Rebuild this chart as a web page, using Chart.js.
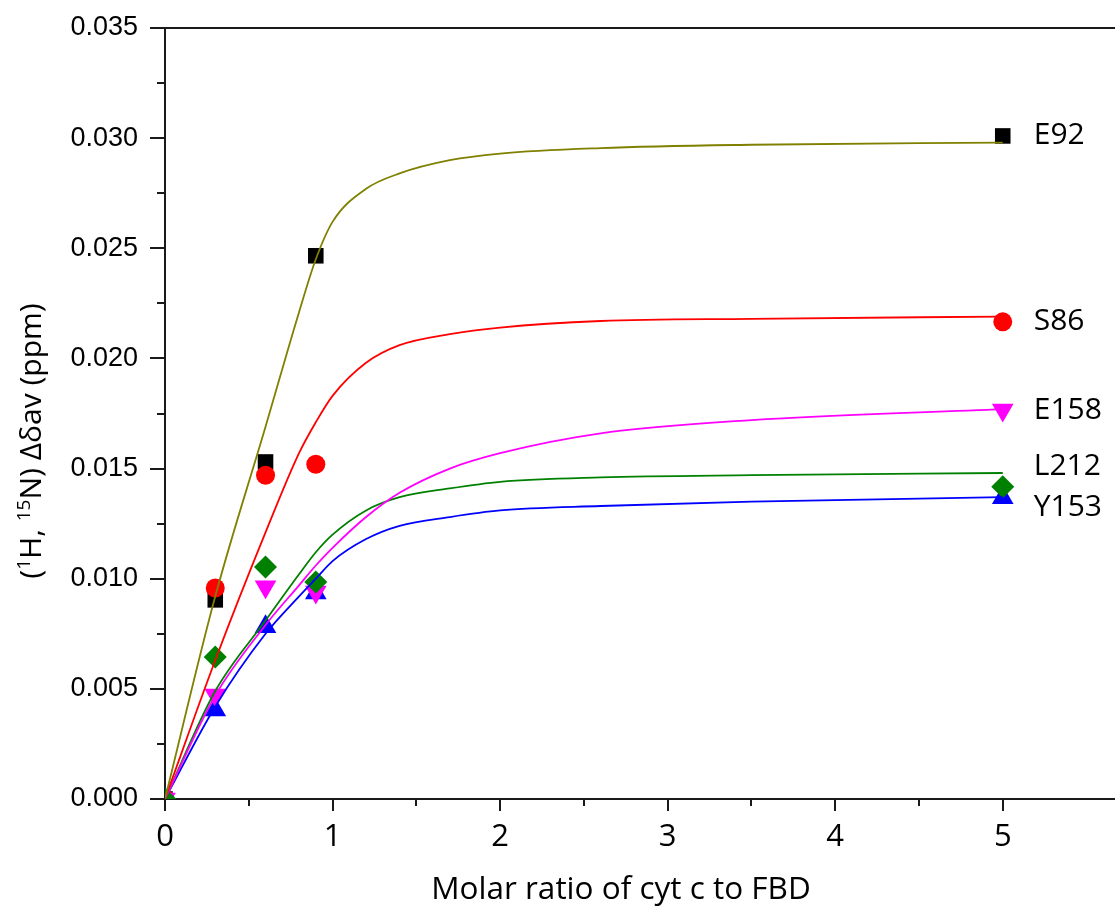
<!DOCTYPE html>
<html>
<head>
<meta charset="utf-8">
<script src="https://cdn.jsdelivr.net/npm/chart.js@4.4.1/dist/chart.umd.min.js"></script>
<style>
  html, body { margin: 0; padding: 0; background: #fff; }
</style>
</head>
<body>
<canvas id="chart" width="1115" height="913"></canvas>
<script>
// measured points (molar ratio vs shift)
const ratioX = [0, 0.3, 0.6, 0.9, 5];
const e92 = [0, 0.00904, 0.0153, 0.02466, 0.0301];
const s86 = [0, 0.00958, 0.0147, 0.0152, 0.02166];
const e158 = [0, 0.00472, 0.00964, 0.0094, 0.01766];
const l212 = [0, 0.00645, 0.01053, 0.00985, 0.01417];
const y153 = [0, 0.00404, 0.00782, 0.00935, 0.01367];

// fitted curves
const fitX = [0, 0.3, 0.6, 0.8, 0.9, 1.0, 1.2, 1.4, 1.7, 2.0, 2.6, 3.5, 5];
const fitE92 = [0, 0.0092, 0.0169, 0.0221, 0.0245, 0.0262, 0.0277, 0.0284, 0.0290, 0.0293, 0.02955, 0.0297, 0.0298];
const fitS86 = [0, 0.0063, 0.0121, 0.0157, 0.0171, 0.0183, 0.0198, 0.0206, 0.0211, 0.0214, 0.0217, 0.0218, 0.0219];
const fitE158 = [0, 0.0047, 0.0079, 0.0097, 0.0106, 0.0114, 0.0128, 0.0139, 0.0150, 0.0157, 0.0166, 0.0172, 0.0177];
const fitL212 = [0, 0.0049, 0.0081, 0.0102, 0.0112, 0.0120, 0.0131, 0.0137, 0.0141, 0.0144, 0.0146, 0.0147, 0.0148];
const fitY153 = [0, 0.0042, 0.0075, 0.0092, 0.0100, 0.0108, 0.0118, 0.0124, 0.0128, 0.0131, 0.0133, 0.0135, 0.0137];

const seriesNames = ['E92', 'S86', 'E158', 'L212', 'Y153'];
const yTickLabels = ['0.000', '0.005', '0.010', '0.015', '0.020', '0.025', '0.030', '0.035'];
const xTickLabels = ['0', '1', '2', '3', '4', '5'];

const toPts = (xs, ys) => xs.map((x, i) => ({ x: x, y: ys[i] }));

const fitLine = (ys, color) => ({
  type: 'line',
  data: toPts(fitX, ys),
  borderColor: color,
  borderWidth: 1.8,
  pointRadius: 0,
  cubicInterpolationMode: 'monotone',
  fill: false,
  order: 0
});

const marks = (name, ys, color, style, r, rot, ord) => ({
  type: 'scatter',
  label: name,
  data: toPts(ratioX, ys),
  backgroundColor: color,
  borderColor: color,
  borderWidth: 0,
  pointStyle: style,
  pointRadius: r,
  pointRotation: rot,
  showLine: false,
  order: ord
});

const labelDy = { E92: 0, S86: 0, E158: 0, L212: -20, Y153: 10 };

const decorPlugin = {
  id: 'decor',
  afterDraw(chart) {
    const ctx = chart.ctx;
    const area = chart.chartArea;
    const xs = chart.scales.x;
    const ys = chart.scales.y;
    ctx.save();
    ctx.strokeStyle = '#1a1a1a';
    ctx.lineWidth = 2;
    // top frame line
    ctx.beginPath();
    ctx.moveTo(area.left, area.top);
    ctx.lineTo(chart.width, area.top);
    ctx.stroke();
    // y ticks (major every 0.005, minor in between)
    ys.ticks.forEach(t => {
      const k = Math.round(t.value / 0.0025);
      if (Math.abs(k * 0.0025 - t.value) > 1e-9) return;
      const len = k % 2 === 0 ? 15 : 8;
      const py = Math.round(ys.getPixelForValue(t.value));
      ctx.beginPath();
      ctx.moveTo(area.left - len, py);
      ctx.lineTo(area.left, py);
      ctx.stroke();
    });
    // x ticks (major at integers, minor at halves)
    xs.ticks.forEach(t => {
      const k = Math.round(t.value / 0.5);
      if (Math.abs(k * 0.5 - t.value) > 1e-9) return;
      const len = k % 2 === 0 ? 12 : 7;
      const px = Math.round(xs.getPixelForValue(t.value));
      ctx.beginPath();
      ctx.moveTo(px, area.bottom);
      ctx.lineTo(px, area.bottom + len);
      ctx.stroke();
    });

    // series labels beside the last point
    ctx.fillStyle = '#000';
    ctx.font = '30px "Open Sans"';
    ctx.textAlign = 'left';
    ctx.textBaseline = 'middle';
    chart.data.datasets.forEach((ds, i) => {
      if (ds.type !== 'scatter') return;
      const meta = chart.getDatasetMeta(i);
      const last = meta.data[meta.data.length - 1];
      ctx.fillText(ds.label, last.x + 31, last.y + labelDy[ds.label]);
    });

    // x title
    ctx.textAlign = 'center';
    ctx.textBaseline = 'alphabetic';
    ctx.font = '31.5px "Open Sans"';
    ctx.fillText('Molar ratio of cyt c to FBD', 621, 899);

    // y title with superscripts
    const big = '30px "Open Sans"';
    const small = '19px "Open Sans"';
    const parts = [
      ['(', big, 0], ['1', small, -11], ['H, ', big, 0], ['15', small, -11], ['N) \u0394\u03b4av (ppm)', big, 0]
    ];
    let total = 0;
    parts.forEach(p => { ctx.font = p[1]; total += ctx.measureText(p[0]).width; });
    ctx.translate(41, 441);
    ctx.rotate(-Math.PI / 2);
    ctx.textAlign = 'left';
    let cx = -total / 2;
    parts.forEach(p => {
      ctx.font = p[1];
      ctx.fillText(p[0], cx, p[2]);
      cx += ctx.measureText(p[0]).width;
    });
    ctx.restore();
  }
};

Chart.defaults.font.family = '"Open Sans", sans-serif';
Chart.defaults.color = '#000';

new Chart(document.getElementById('chart'), {
  data: {
    datasets: [
      fitLine(fitE92, '#808000'),
      fitLine(fitS86, '#ff0000'),
      fitLine(fitE158, '#ff00ff'),
      fitLine(fitL212, '#008000'),
      fitLine(fitY153, '#0000ff'),
      marks(seriesNames[0], e92, '#000000', 'rect', 11, 0, 5),
      marks(seriesNames[1], s86, '#ff0000', 'circle', 9.5, 0, 4),
      marks(seriesNames[2], e158, '#ff00ff', 'triangle', 12.5, 180, 2),
      marks(seriesNames[3], l212, '#008000', 'rectRot', 11.5, 0, 1),
      marks(seriesNames[4], y153, '#0000ff', 'triangle', 12.5, 0, 3)
    ]
  },
  options: {
    responsive: false,
    animation: false,
    devicePixelRatio: 1,
    layout: { autoPadding: false, padding: { top: 28, right: 0, left: 0, bottom: 0 } },
    plugins: { legend: { display: false }, tooltip: { enabled: false } },
    scales: {
      x: {
        type: 'linear',
        min: 0,
        max: 5.67,
        afterFit: s => { s.height = 114; s.paddingLeft = 0; s.paddingRight = 0; },
        grid: { display: false },
        border: { display: true, color: '#1a1a1a', width: 2 },
        ticks: {
          stepSize: 0.5,
          autoSkip: false,
          maxRotation: 0,
          padding: 12,
          font: { family: '"Open Sans"', size: 31 },
          callback: v => {
            const k = Math.round(v);
            return Math.abs(k - v) < 1e-9 && k < xTickLabels.length ? xTickLabels[k] : '';
          }
        }
      },
      y: {
        type: 'linear',
        min: 0,
        max: 0.035,
        afterFit: s => { s.width = 165; s.paddingTop = 0; s.paddingBottom = 0; },
        grid: { display: false },
        border: { display: true, color: '#1a1a1a', width: 2 },
        ticks: {
          stepSize: 0.0025,
          autoSkip: false,
          padding: 19,
          font: { family: '"Liberation Sans"', size: 27 },
          callback: v => {
            const k = Math.round(v / 0.0025);
            return k % 2 === 0 ? yTickLabels[k / 2] : '';
          }
        }
      }
    }
  },
  plugins: [decorPlugin]
});
</script>
</body>
</html>
